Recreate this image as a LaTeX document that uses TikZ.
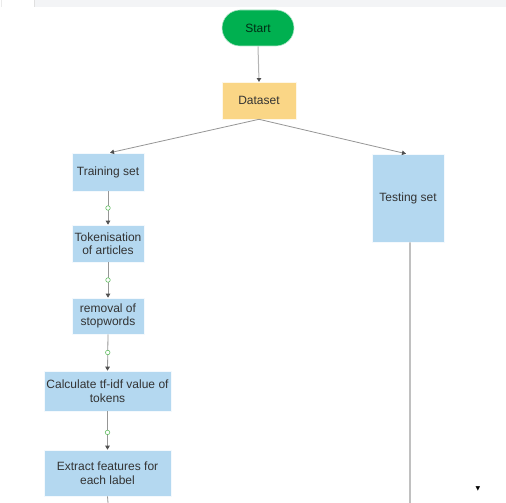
\documentclass[tikz,border=0pt]{standalone}
\usepackage{fontspec}
\setmainfont{Liberation Sans}
\newfontfamily\symfont{DejaVu Sans}
\usetikzlibrary{arrows.meta,shapes.misc}
\definecolor{startgreen}{RGB}{0,176,80}
\definecolor{datayellow}{RGB}{250,214,134}
\definecolor{stepblue}{RGB}{180,216,240}
\definecolor{txt}{RGB}{51,51,51}
\definecolor{wire}{RGB}{150,150,150}
\definecolor{tip}{RGB}{80,80,80}
\definecolor{joint}{RGB}{100,190,100}
\definecolor{band}{RGB}{243,244,246}
\tikzset{
  lbl/.style={font=\fontsize{12bp}{13.5bp}\selectfont, text=txt, align=center, inner sep=0pt},
  stepbox/.style={lbl, rectangle, fill=stepblue, draw=white!85!stepblue, line width=0.6bp},
  pill/.style={lbl, rounded rectangle, fill=startgreen, draw=white!70!startgreen, line width=0.6bp,
    minimum width=72bp, minimum height=36bp, text=black!75!startgreen},
  dataset/.style={lbl, rectangle, fill=datayellow, draw=white!80!datayellow, line width=0.6bp,
    minimum width=74bp, minimum height=37bp},
  flow/.style={draw=wire, line width=0.8bp, -{Triangle[width=4.5bp,length=4bp,color=tip]}},
  plain/.style={draw=wire!60, line width=1.6bp},
  joint/.style={circle, draw=joint, fill=white, line width=0.6bp, minimum size=4.5bp, inner sep=0pt},
}
\begin{document}
\begin{tikzpicture}[x=1bp,y=-1bp]
  \useasboundingbox (0,0) rectangle (506,503);
  \fill[white] (0,0) rectangle (506,503);
  % toolbar strip along the top edge
  \fill[band] (34,0) rectangle (506,7);
  \draw[black!12, line width=0.6bp] (34,0) -- (34,7);
  \draw[black!8, line width=0.6bp] (1.5,0) -- (1.5,7);

  % start and dataset
  \node[pill] (start) at (258,28) {Start};
  \node[dataset] (data) at (259,100.5) {Dataset};

  % training branch
  \node[stepbox, minimum width=72bp, minimum height=38bp] (train) at (108,172) {Training set};
  \node[stepbox, minimum width=72bp, minimum height=37bp] (token) at (108,243.5) {Tokenisation\\of articles};
  \node[stepbox, minimum width=72bp, minimum height=36bp] (stop) at (108,316) {removal of\\stopwords};
  \node[stepbox, minimum width=127bp, minimum height=40bp] (tfidf) at (107.5,391) {Calculate tf-idf value of\\tokens};
  \node[stepbox, minimum width=127bp, minimum height=46bp] (feat) at (107.5,473) {Extract features for\\each label};

  % testing branch
  \node[stepbox, minimum width=72bp, minimum height=88bp] (test) at (408,198) {Testing set};

  % connectors
  \draw[plain, draw=wire!70, line width=1bp] (start.south) -- (data.north);
  \fill[tip] (data.north) ++(-2.3,-3.5) -- ++(4.6,0) -- (data.north) -- cycle;
  \draw[flow] (data.south) -- ([xshift=2bp]train.north);
  \draw[flow] (data.south) -- ([xshift=-2bp]test.north);
  \draw[flow] (train.south) -- (token.north) node[joint, pos=0.5] {};
  \draw[flow] (token.south) -- (stop.north) node[joint, pos=0.5] {};
  \draw[flow] (stop.south) -- (tfidf.north) node[joint, pos=0.5] {};
  \draw[flow] (tfidf.south) -- (feat.north) node[joint, pos=0.55] {};

  % lines running on past the lower edge
  \coordinate (featout) at (108,503);
  \coordinate (testout) at (410,503);
  \draw[draw=wire, line width=0.8bp] (feat.south) -- (featout);
  \draw[plain] ([xshift=2bp]test.south) -- (testout);

  % small dropdown marker
  \node[font=\symfont\fontsize{6bp}{6bp}\selectfont, inner sep=0pt] (drop) at (478,489) {▼};
\end{tikzpicture}
\end{document}
